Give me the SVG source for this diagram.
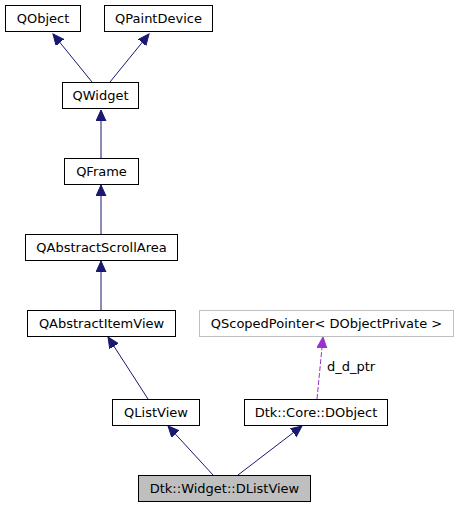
<svg xmlns="http://www.w3.org/2000/svg" width="459" height="507" viewBox="0 0 459 507">
<style>
.box rect{fill:#ffffff;stroke:#000000;stroke-width:1}
.box text{font-family:"DejaVu Sans",sans-serif;font-size:13px;text-anchor:middle;fill:#000000}
#n_qscoped rect{stroke:#bfbfbf}
#n_dlistview rect{fill:#bfbfbf}
.edge{fill:none;stroke:#191970;stroke-width:1}
.dashed{fill:none;stroke:#9a32cd;stroke-width:1;stroke-dasharray:5,2}
.lbl{font-family:"DejaVu Sans",sans-serif;font-size:13px;fill:#000000}
</style>
<defs>
<marker id="ah" markerUnits="userSpaceOnUse" markerWidth="12" markerHeight="12" refX="11" refY="5" orient="auto">
<path d="M0,0 L11,5 L0,10 z" fill="#191970" stroke="#191970" stroke-width="1"/>
</marker>
<marker id="ahp" markerUnits="userSpaceOnUse" markerWidth="12" markerHeight="12" refX="11" refY="5" orient="auto">
<path d="M0,0 L11,5 L0,10 z" fill="#9a32cd" stroke="#9a32cd" stroke-width="1"/>
</marker>
</defs>
<rect width="459" height="507" fill="#ffffff"/>
<g id="edges">
<line class="edge" x1="92" y1="82" x2="53" y2="34" marker-end="url(#ah)"/>
<line class="edge" x1="110" y1="82" x2="149" y2="34" marker-end="url(#ah)"/>
<line class="edge" x1="101" y1="158" x2="101" y2="110" marker-end="url(#ah)"/>
<line class="edge" x1="101" y1="234" x2="101" y2="185" marker-end="url(#ah)"/>
<line class="edge" x1="101" y1="310" x2="101" y2="261" marker-end="url(#ah)"/>
<line class="edge" x1="148" y1="399" x2="108" y2="337" marker-end="url(#ah)"/>
<line class="edge" x1="213" y1="475" x2="168" y2="426" marker-end="url(#ah)"/>
<line class="edge" x1="238" y1="475" x2="302" y2="426" marker-end="url(#ah)"/>
<line class="dashed" x1="317" y1="399" x2="323" y2="337" marker-end="url(#ahp)"/>
<text class="lbl" x="327" y="371">d_d_ptr</text>
</g>
<g id="n_qobject" class="box"><rect x="5.5" y="5.5" width="75" height="26"/><text x="43" y="23">QObject</text></g>
<g id="n_qpaintdevice" class="box"><rect x="104.5" y="5.5" width="108" height="26"/><text x="158.5" y="23">QPaintDevice</text></g>
<g id="n_qwidget" class="box"><rect x="62.5" y="82.5" width="76" height="26"/><text x="100.5" y="100">QWidget</text></g>
<g id="n_qframe" class="box"><rect x="64.5" y="158.5" width="74" height="26"/><text x="101.5" y="176">QFrame</text></g>
<g id="n_qabstractscrollarea" class="box"><rect x="25.5" y="234.5" width="152" height="26"/><text x="101.5" y="252">QAbstractScrollArea</text></g>
<g id="n_qabstractitemview" class="box"><rect x="27.5" y="310.5" width="148" height="26"/><text x="101.5" y="328">QAbstractItemView</text></g>
<g id="n_qscoped" class="box"><rect x="199.5" y="310.5" width="254" height="26"/><text x="326.5" y="328">QScopedPointer&lt; DObjectPrivate &gt;</text></g>
<g id="n_qlistview" class="box"><rect x="112.5" y="399.5" width="87" height="26"/><text x="156" y="417">QListView</text></g>
<g id="n_dobject" class="box"><rect x="244.5" y="399.5" width="143" height="26"/><text x="316" y="417">Dtk::Core::DObject</text></g>
<g id="n_dlistview" class="box"><rect x="138.5" y="475.5" width="172" height="26"/><text x="224.5" y="493">Dtk::Widget::DListView</text></g>
</svg>
